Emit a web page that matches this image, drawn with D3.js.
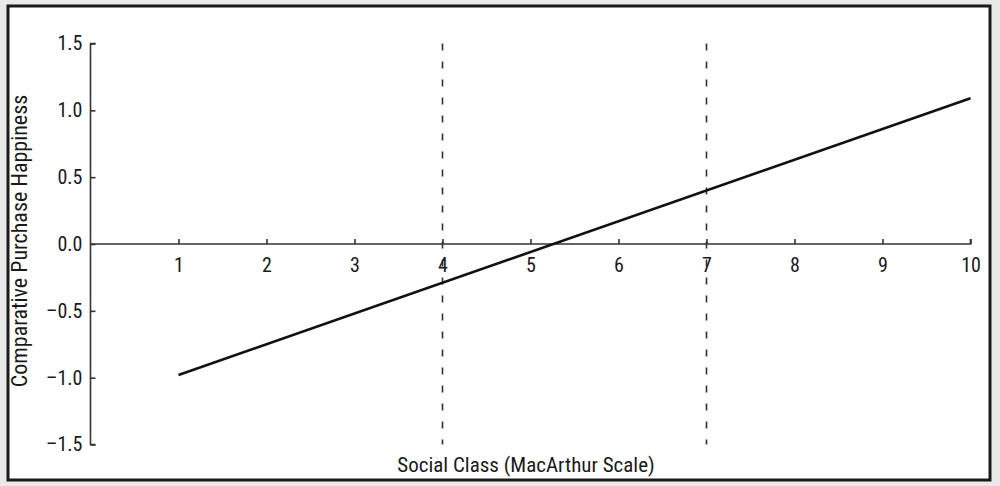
<!DOCTYPE html>
<html>
<head>
<meta charset="utf-8">
<script src="https://cdn.jsdelivr.net/npm/d3@7/dist/d3.min.js"></script>
<style>
  html, body { margin: 0; padding: 0; background: #e9e9e9; }
  svg { display: block; }
  text { font-family: "Liberation Sans Narrow", "Arial Narrow", "Roboto Condensed", "Liberation Sans", sans-serif; fill: #1a1a1a; }
</style>
</head>
<body>
<svg id="chart" width="1000" height="486"></svg>
<script>
// Data
const xTicks = [1, 2, 3, 4, 5, 6, 7, 8, 9, 10];
const yTicks = [-1.5, -1.0, -0.5, 0.0, 0.5, 1.0, 1.5];
const lineX = [1, 10];
const lineY = [-0.98, 1.09];
const refLinesX = [4, 7];
const xTitle = "Social Class (MacArthur Scale)";
const yTitle = "Comparative Purchase Happiness";

const svg = d3.select("#chart");

// frame
svg.append("rect").attr("x", 8).attr("y", 6).attr("width", 982).attr("height", 474)
  .attr("fill", "#fff").attr("stroke", "#1a1a1a").attr("stroke-width", 3);

const x = d3.scaleLinear().domain([0, 10]).range([90.5, 970.5]);
const y = d3.scaleLinear().domain([-1.5, 1.5]).range([444.5, 43.5]);

// dashed reference lines
svg.selectAll(".ref").data(refLinesX).enter().append("line")
  .attr("x1", d => x(d)).attr("x2", d => x(d))
  .attr("y1", y(1.5)).attr("y2", y(-1.5))
  .attr("stroke", "#333").attr("stroke-width", 1.6)
  .attr("stroke-dasharray", "7,11");

// y axis
const yAxis = d3.axisRight(y).tickValues(yTicks).tickSize(5).tickFormat(d3.format(".1f"));
const gy = svg.append("g").attr("transform", `translate(${x(0)},0)`).call(yAxis);
gy.select(".domain").attr("stroke", "#333").attr("stroke-width", 1.6).attr("d", `M5,${y(1.5)}H0V${y(-1.5)}H5`);
gy.selectAll(".tick line").attr("stroke", "#333").attr("stroke-width", 1.6);
gy.selectAll(".tick text")
  .attr("x", -8).attr("text-anchor", "end")
  .style("font-size", "20px")
  .text(d => d < 0 ? "\u2013" + d3.format(".1f")(-d) : d3.format(".1f")(d));

// x axis at y=0
const xAxis = d3.axisTop(x).tickValues(xTicks).tickSize(5).tickFormat(d3.format("d"));
const gx = svg.append("g").attr("transform", `translate(0,${y(0)})`).call(xAxis);
gx.select(".domain").attr("stroke", "#333").attr("stroke-width", 1.6).attr("d", `M${x(0)},0H${x(10)}V-5`);
gx.selectAll(".tick line").attr("stroke", "#333").attr("stroke-width", 1.6);
gx.selectAll(".tick text")
  .attr("y", 28).attr("dy", 0)
  .style("font-size", "20px");

// regression line
const pts = lineX.map((v, i) => [v, lineY[i]]);
svg.append("path").datum(pts)
  .attr("d", d3.line().x(d => x(d[0])).y(d => y(d[1])))
  .attr("fill", "none").attr("stroke", "#111").attr("stroke-width", 2.6);

// titles
svg.append("text").attr("x", 526).attr("y", 472).attr("text-anchor", "middle")
  .style("font-size", "21px").text(xTitle);
svg.append("text").attr("transform", `translate(27,241) rotate(-90)`).attr("text-anchor", "middle")
  .style("font-size", "22px").text(yTitle);
</script>
</body>
</html>
